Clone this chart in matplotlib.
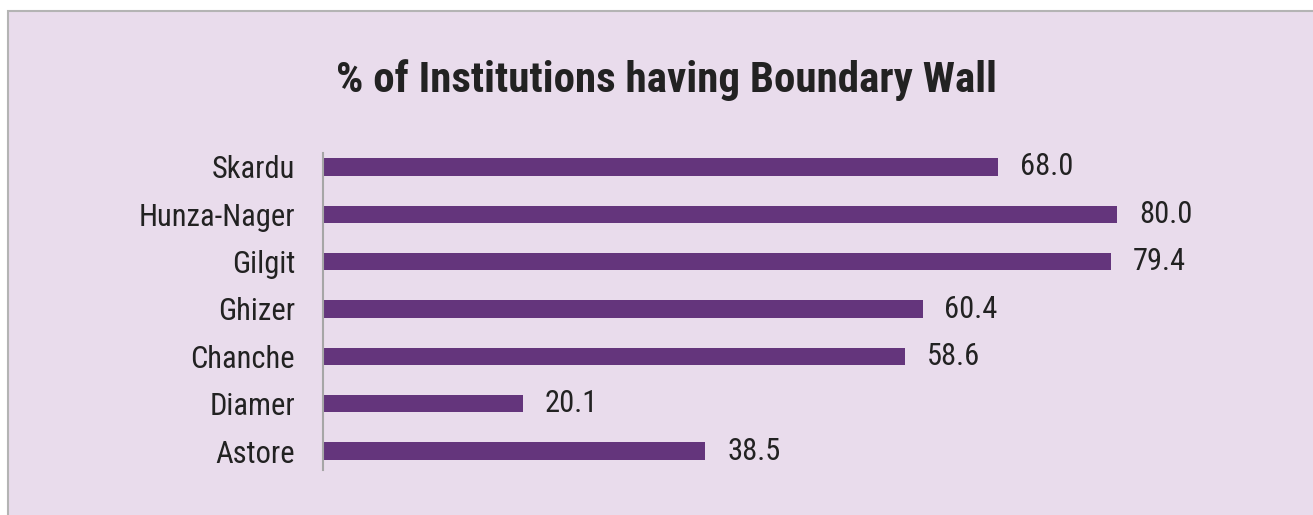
import matplotlib.pyplot as plt
from matplotlib.patches import Rectangle

districts = ['Skardu', 'Hunza-Nager', 'Gilgit', 'Ghizer', 'Chanche', 'Diamer', 'Astore']
pct_wall = [68.0, 80.0, 79.4, 60.4, 58.6, 20.1, 38.5]

plt.rcParams['font.family'] = ['Roboto Condensed', 'DejaVu Sans']

fig = plt.figure(figsize=(13.13, 5.15), dpi=100, facecolor='white')

# panel background with grey border (bottom/right run off the image)
bg = Rectangle((8 / 1313, -0.05), 1.1, 1 - 11 / 515 + 0.05, transform=fig.transFigure,
               facecolor='#E9DCEC', edgecolor='#B4B4B4', linewidth=1.5, zorder=-5)
fig.patches.append(bg)

ax = fig.add_axes([323 / 1313, 0.0783, 943 / 1313, 0.6434])
ax.set_facecolor('none')

y = list(range(len(districts)))
ax.barh(y, pct_wall, height=0.36, color='#64357C')
for yi, v in zip(y, pct_wall):
    ax.text(v + 2.2, yi, f'{v:.1f}', va='center', ha='left', fontsize=22, color='#222222')

ax.set_yticks(y)
ax.set_yticklabels(districts, fontsize=22, color='#222222')
ax.set_ylim(len(districts) - 0.5, -0.5)
ax.set_xlim(0, 95)
ax.set_xticks([])
ax.tick_params(axis='y', length=0, pad=20)
for s in ['top', 'right', 'bottom']:
    ax.spines[s].set_visible(False)
ax.spines['left'].set_color('#A6A6A6')
ax.spines['left'].set_linewidth(1.5)
ax.spines['left'].set_bounds(-0.3, 6.4)

fig.text(667 / 1313, 1 - 80 / 515, '% of Institutions having Boundary Wall',
         ha='center', va='center', fontsize=31, fontweight='bold', color='#222222')

fig.savefig('out.png', dpi=100, facecolor=fig.get_facecolor())
